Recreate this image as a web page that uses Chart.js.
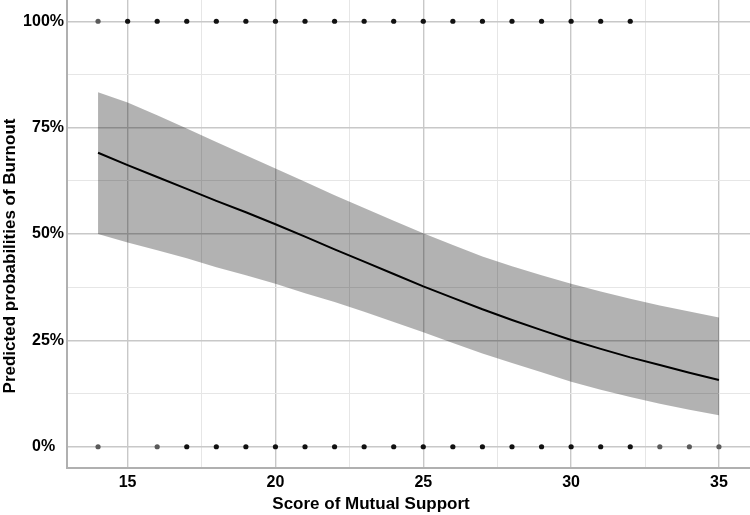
<!DOCTYPE html>
<html>
<head>
<meta charset="utf-8">
<script src="https://cdn.jsdelivr.net/npm/chart.js@4"></script>
<style>
  html, body { margin: 0; padding: 0; background: #fff; }
  #wrap { width: 750px; height: 515px; position: relative; }
</style>
</head>
<body>
<div id="wrap"><canvas id="chart"></canvas></div>
<script>
// predicted probability curve
const scores = [14, 15, 16, 17, 18, 19, 20, 21, 22, 23, 24, 25, 26, 27, 28, 29, 30, 31, 32, 33, 34, 35];
const predicted = [0.691, 0.662, 0.634, 0.606, 0.578, 0.551, 0.523, 0.494, 0.464, 0.435, 0.406, 0.377,
                   0.350, 0.323, 0.298, 0.274, 0.251, 0.230, 0.210, 0.192, 0.174, 0.157];
const ciUpper = [0.833, 0.809, 0.779, 0.748, 0.716, 0.685, 0.654, 0.623, 0.591, 0.561, 0.531, 0.502,
                 0.474, 0.447, 0.424, 0.403, 0.383, 0.365, 0.348, 0.332, 0.318, 0.304];
const ciLower = [0.500, 0.480, 0.462, 0.443, 0.422, 0.403, 0.383, 0.361, 0.340, 0.317, 0.293, 0.269,
                 0.244, 0.219, 0.197, 0.175, 0.153, 0.134, 0.117, 0.101, 0.087, 0.074];

// observed cases: burnout = 1 (top row) and burnout = 0 (bottom row)
const burnoutScores = [14, 15, 16, 17, 18, 19, 20, 21, 22, 23, 24, 25, 26, 27, 28, 29, 30, 31, 32];
const burnoutSingles = [14];
const noBurnoutScores = [14, 16, 17, 18, 19, 20, 21, 22, 23, 24, 25, 26, 27, 28, 29, 30, 31, 32, 33, 34, 35];
const noBurnoutSingles = [14, 16, 33, 34, 35];

// axes
const xTicks = [15, 20, 25, 30, 35];
const xMinor = [17.5, 22.5, 27.5, 32.5];
const yTicks = [0, 0.25, 0.5, 0.75, 1];
const yTickLabels = ['0%  ', '25%', '50%', '75%', '100%'];
const yMinor = [0.125, 0.375, 0.625, 0.875];

const xTitle = 'Score of Mutual Support';
const yTitle = 'Predicted probabilities of Burnout';

const FONT = "'Liberation Sans', Arial, sans-serif";
const MAJOR = '#c8c8c8';
const MINOR = '#e6e6e6';
const singleColor = '#5a5a5a';
const manyColor = '#111111';

function pts(xs, ys) {
  return xs.map((x, i) => ({ x: x, y: Array.isArray(ys) ? ys[i] : ys }));
}

const titles = {
  id: 'axisTitles',
  afterDraw(chart) {
    const ctx = chart.ctx;
    ctx.save();
    ctx.fillStyle = '#000';
    ctx.font = 'bold 17px ' + FONT;
    ctx.textAlign = 'center';
    ctx.textBaseline = 'middle';
    ctx.fillText(xTitle, 371, 504);
    ctx.translate(10, 256);
    ctx.rotate(-Math.PI / 2);
    ctx.fillText(yTitle, 0, 0);
    ctx.restore();
  }
};

new Chart(document.getElementById('chart'), {
  type: 'scatter',
  data: {
    datasets: [
      {
        data: pts(scores, ciUpper),
        showLine: true,
        fill: '+1',
        backgroundColor: 'rgba(0,0,0,0.3)',
        borderWidth: 0,
        pointRadius: 0
      },
      {
        data: pts(scores, ciLower),
        showLine: true,
        borderWidth: 0,
        pointRadius: 0
      },
      {
        data: pts(scores, predicted),
        showLine: true,
        borderColor: '#000',
        borderWidth: 2,
        pointRadius: 0
      },
      {
        data: pts(burnoutScores, 1),
        pointRadius: 2.6,
        borderWidth: 0,
        pointBackgroundColor: burnoutScores.map(s => burnoutSingles.includes(s) ? singleColor : manyColor)
      },
      {
        data: pts(noBurnoutScores, 0),
        pointRadius: 2.6,
        borderWidth: 0,
        pointBackgroundColor: noBurnoutScores.map(s => noBurnoutSingles.includes(s) ? singleColor : manyColor)
      }
    ]
  },
  options: {
    responsive: true,
    maintainAspectRatio: false,
    animation: false,
    layout: { padding: 0, autoPadding: false },
    plugins: { legend: { display: false }, tooltip: { enabled: false } },
    scales: {
      x: {
        type: 'linear',
        min: 12.95,
        max: 36.05,
        afterBuildTicks: s => {
          s.ticks = [...xTicks, ...xMinor].sort((a, b) => a - b).map(v => ({ value: v }));
        },
        afterFit: s => { s.height = 47; s.paddingLeft = 0; s.paddingRight = 0; },
        grid: {
          drawTicks: false,
          color: c => xTicks.includes(c.tick.value) ? MAJOR : MINOR,
          lineWidth: c => xTicks.includes(c.tick.value) ? 1.4 : 1
        },
        border: { color: '#b0b0b0', width: 2 },
        ticks: {
          autoSkip: false,
          maxRotation: 0,
          padding: 5,
          color: '#000',
          font: { family: FONT, size: 16, weight: 'bold' },
          callback: v => xTicks.includes(v) ? String(v) : ''
        }
      },
      y: {
        type: 'linear',
        min: -0.05,
        max: 1.05,
        afterBuildTicks: s => {
          s.ticks = [...yTicks, ...yMinor].sort((a, b) => a - b).map(v => ({ value: v }));
        },
        afterFit: s => { s.width = 67; s.paddingTop = 0; s.paddingBottom = 0; },
        grid: {
          drawTicks: false,
          color: c => yTicks.includes(c.tick.value) ? MAJOR : MINOR,
          lineWidth: c => yTicks.includes(c.tick.value) ? 1.4 : 1
        },
        border: { color: '#b0b0b0', width: 2 },
        ticks: {
          autoSkip: false,
          padding: 3,
          color: '#000',
          font: { family: FONT, size: 16, weight: 'bold' },
          callback: v => {
            const i = yTicks.indexOf(v);
            return i >= 0 ? yTickLabels[i] : '';
          }
        }
      }
    }
  },
  plugins: [titles]
});
</script>
</body>
</html>
